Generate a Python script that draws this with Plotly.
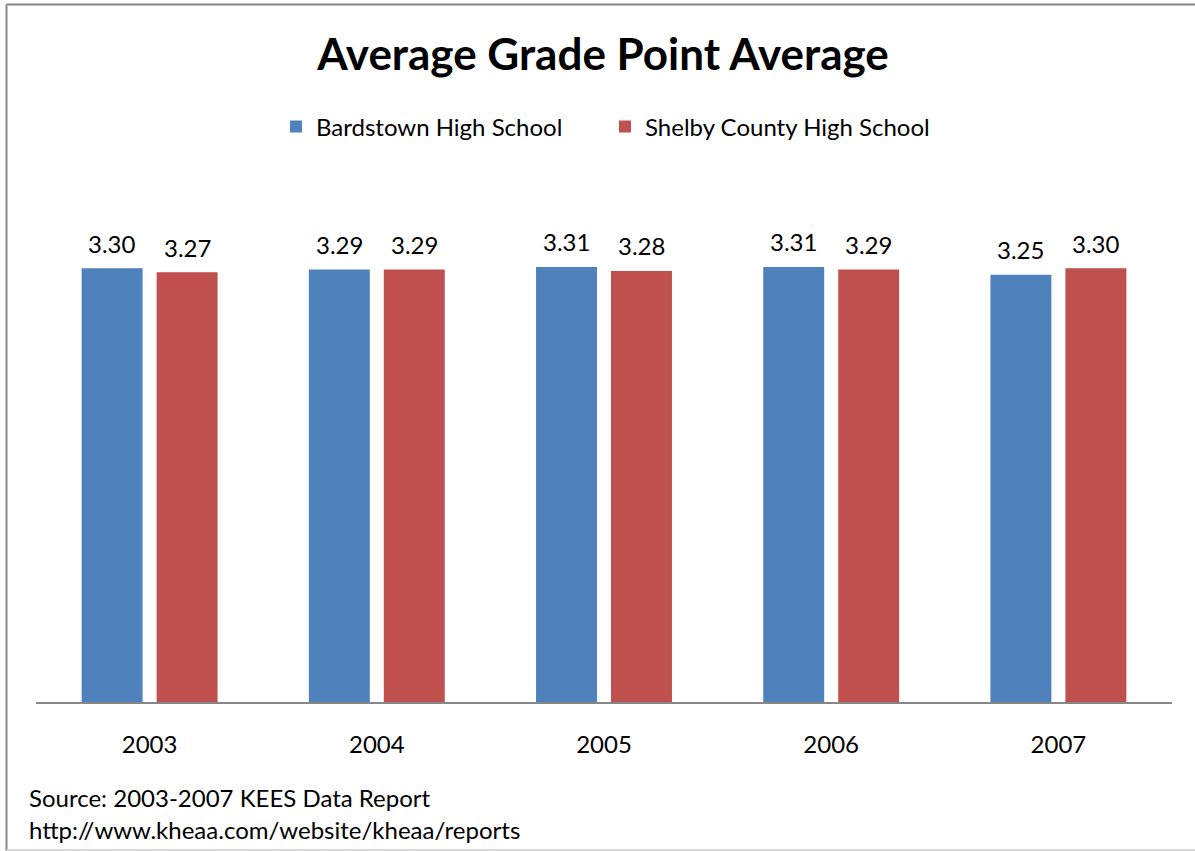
import plotly.graph_objects as go

years = ["2003", "2004", "2005", "2006", "2007"]
bardstown = [3.30, 3.29, 3.31, 3.31, 3.25]
shelby = [3.27, 3.29, 3.28, 3.29, 3.30]
series_names = ["Bardstown High School", "Shelby County High School"]
colors = ["#4F81BD", "#C0504D"]
title_text = "Average Grade Point Average"
source_lines = ["Source: 2003-2007 KEES Data Report", "http://www.kheaa.com/website/kheaa/reports"]

W, H = 1195, 851
ML, MR, MT, MB = 36, 23, 242, 149
PW = W - ML - MR
PH = H - MT - MB
FONT = "Lato"

def px2x(px):
    return (px - ML) / PW

def py2y(py):
    return (H - MB - py) / PH

fig = go.Figure()
for name, vals, col in zip(series_names, [bardstown, shelby], colors):
    fig.add_trace(go.Bar(x=years, y=vals, name=name, marker=dict(color=col, line=dict(width=0))))

annotations = []
for k, vals in enumerate([bardstown, shelby]):
    shift = -37.5 if k == 0 else 37.5
    for idx, v in enumerate(vals):
        # category axis: annotation x is the category index
        annotations.append(dict(x=idx, y=v, xref="x", yref="y", text=f"{v:.2f}", showarrow=False,
                                xshift=shift, yshift=25, yanchor="middle",
                                font=dict(family=FONT, size=24, color="#000")))
for i, line in enumerate(source_lines):
    annotations.append(dict(x=px2x(27), y=py2y(797 + 32 * i), xref="paper", yref="paper", text=line,
                            showarrow=False, xanchor="left", yanchor="middle",
                            font=dict(family=FONT, size=24, color="#000")))

shapes = [
    dict(type="line", xref="paper", yref="paper", x0=px2x(6.5), x1=px2x(6.5), y0=py2y(4.5), y1=py2y(851),
         line=dict(color="#888888", width=2)),
    dict(type="line", xref="paper", yref="paper", x0=px2x(6.5), x1=px2x(1200), y0=py2y(4.5), y1=py2y(4.5),
         line=dict(color="#888888", width=2)),
    dict(type="line", xref="paper", yref="paper", x0=px2x(6.5), x1=px2x(1200), y0=py2y(850), y1=py2y(850),
         line=dict(color="#D9D9D9", width=2)),
]

fig.update_layout(
    width=W, height=H,
    margin=dict(l=ML, r=MR, t=MT, b=MB),
    paper_bgcolor="white", plot_bgcolor="white",
    barmode="group", bargap=0.34, bargroupgap=0.187,
    title=dict(text=f"<b>{title_text}</b>", x=603 / W, xanchor="center", y=1 - 55 / H, yanchor="middle",
               xref="container", yref="container", font=dict(family=FONT, size=44, color="#000")),
    legend=dict(orientation="h", x=276 / W, xanchor="left", y=1 - 127 / H, yanchor="middle",
                xref="container", yref="container", font=dict(family=FONT, size=24, color="#000"),
                entrywidth=284, entrywidthmode="pixels",
                itemclick=False, traceorder="normal"),
    xaxis=dict(type="category", range=[-0.5, len(years) - 0.5], showline=True, linecolor="#868686",
               linewidth=2, ticks="outside", ticklen=20, tickcolor="rgba(0,0,0,0)", showgrid=False,
               tickfont=dict(family=FONT, size=24, color="#000")),
    yaxis=dict(range=[0, 3.5], visible=False, showgrid=False, zeroline=False),
    annotations=annotations,
    shapes=shapes,
    showlegend=True,
)

fig.write_html("out.html", config={"displayModeBar": False},
               post_script="document.body.style.margin='0';")
